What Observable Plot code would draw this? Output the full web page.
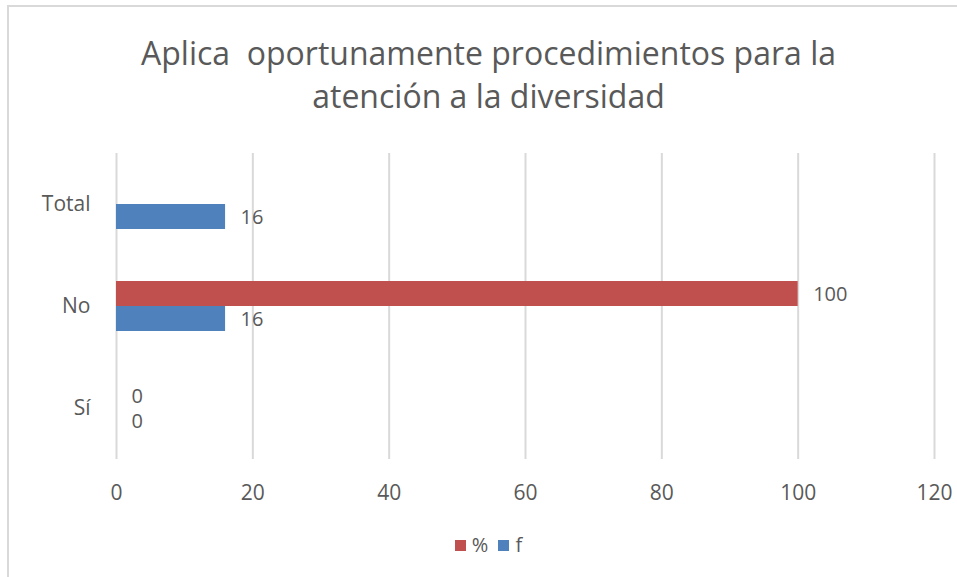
<!DOCTYPE html>
<html>
<head>
<meta charset="utf-8">
<script src="https://cdn.jsdelivr.net/npm/d3@7"></script>
<script src="https://cdn.jsdelivr.net/npm/@observablehq/plot@0.6"></script>
<style>
  html, body { margin: 0; padding: 0; background: #fff; overflow: hidden; }
  #wrap { position: relative; width: 957px; height: 577px; overflow: hidden; font-family: "Open Sans", Lato, sans-serif; color: #595959; }
  #frame { position: absolute; left: 7px; top: 5px; width: 1000px; height: 700px; border: 2px solid #d9d9d9; box-sizing: border-box; }
  #title { position: absolute; left: 0; width: 977px; top: 31px; text-align: center; font-size: 32px; line-height: 43px; color: #595959; }
  #chart { position: absolute; left: 0; top: 0; width: 957px; }
  #legend { position: absolute; top: 531px; left: 0; width: 977px; text-align: center; font-size: 20px; color: #595959; }
  .sw { display: inline-block; width: 11px; height: 11px; margin-right: 6px; vertical-align: 1px; }
  .item { margin: 0 5px; }
</style>
</head>
<body>
<div id="wrap">
  <div id="frame"></div>
  <div id="title">Aplica&nbsp; oportunamente procedimientos para la<br>atención a la diversidad</div>
  <div id="chart"></div>
  <div id="legend"></div>
</div>
<script>
const categories = ["Sí", "No", "Total"];
const series = ["%", "f"];
const pctValues = [0, 100, null];
const fValues = [0, 16, 16];
const xTicks = [0, 20, 40, 60, 80, 100, 120];
const colors = ["#C0504D", "#4F81BD"];

const rows = [];
categories.forEach((c, i) => {
  if (pctValues[i] !== null) rows.push({category: c, series: "%", value: pctValues[i]});
  if (fValues[i] !== null) rows.push({category: c, series: "f", value: fValues[i]});
});

const chart = Plot.plot({
  width: 957,
  height: 510,
  marginTop: 152,
  marginBottom: 50,
  marginLeft: 116,
  marginRight: 23,
  style: {fontFamily: "'Open Sans', Lato, sans-serif", fontSize: "21px", color: "#595959", background: "transparent", overflow: "visible", maxWidth: "none"},
  x: {domain: [0, 120], ticks: xTicks, label: null, tickSize: 0, tickPadding: 26},
  fy: {domain: categories.slice().reverse(), padding: 0, label: null, tickSize: 0, tickPadding: 26},
  y: {domain: series, paddingInner: 0, paddingOuter: 0.975, axis: null},
  color: {domain: series, range: colors},
  marks: [
    Plot.ruleX(xTicks, {stroke: "#d9d9d9", strokeWidth: 2}),
    Plot.barX(rows, {fy: "category", y: "series", x: "value", fill: "series", insetTop: 0, insetBottom: 0}),
    Plot.text(rows, {fy: "category", y: "series", x: "value", text: d => String(d.value), textAnchor: "start", dx: 15, dy: 1, fill: "#595959", fontSize: 20})
  ]
});
document.getElementById("chart").appendChild(chart);

const legend = document.getElementById("legend");
series.forEach((s, i) => {
  const span = document.createElement("span");
  span.className = "item";
  span.innerHTML = `<span class="sw" style="background:${colors[i]}"></span>${s}`;
  legend.appendChild(span);
});
</script>
</body>
</html>
